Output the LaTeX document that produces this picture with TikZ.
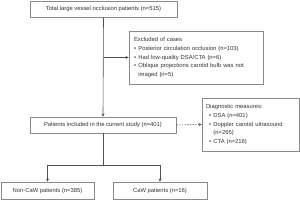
\documentclass[tikz,border=0pt]{standalone}
\usepackage{fontspec}
\setmainfont{Liberation Sans}
\usetikzlibrary{arrows.meta}
\definecolor{boxline}{HTML}{8A8A8A}
\definecolor{conn}{HTML}{505050}
\definecolor{txt}{HTML}{333333}
\newcommand{\bul}{\makebox[4.4pt][l]{\textbullet}}
\begin{document}
\begin{tikzpicture}[x=1pt,y=-1pt,
  box/.style={draw=boxline,line width=0.6pt,rectangle,inner sep=0pt,text=txt,
    font=\fontsize{5.85}{8.8}\selectfont},
  conline/.style={draw=conn,line width=0.6pt},
  arr/.style={conline,-{Stealth[length=3.2pt,width=3pt]}}]
\useasboundingbox (0,0) rectangle (300,200);
\fill[white] (0,0) rectangle (300,200);
\node[box,minimum width=147pt,minimum height=16pt] (top) at (103.5,9) {Total large vessel occlusion patients (n=515)};
\node[box,minimum width=134pt,minimum height=53pt,align=left,text width=124pt] (excl) at (196,57.5)
  {Excluded of cases\\
   \bul Posterior circulation occlusion (n=103)\\
   \bul Had low-quality DSA/CTA (n=6)\\
   \bul Oblique projections carotid bulb was not\\
   \hspace*{4.4pt}imaged (n=5)};
\node[box,minimum width=146pt,minimum height=16pt] (incl) at (103,125) {Patients included in the current study (n=401)};
\node[box,minimum width=97pt,minimum height=53pt,align=left,text width=89pt] (diag) at (250.5,124.5)
  {Diagnostic measures:\\
   \hspace*{3pt}\bul DSA (n=401)\\
   \hspace*{3pt}\bul Doppler carotid ultrasound\\
   \hspace*{7.4pt}(n=265)\\
   \hspace*{3pt}\bul CTA (n=216)};
\node[box,minimum width=93pt,minimum height=17pt] (non) at (47.5,190.5) {Non-CaW patients (n=385)};
\node[box,minimum width=94pt,minimum height=17pt] (caw) at (160,190.5) {CaW patients (n=16)};
\coordinate (br) at (top.south |- excl.west);
\coordinate (split) at (103,165);
\draw[arr] (top.south) -- (incl.north);
\draw[arr] (br) -- (excl.west);
\draw[arr,dashed,dash pattern=on 1.5pt off 1.2pt] (incl.east) -- (diag.west);
\draw[conline] (incl.south) -- (split);
\draw[arr] (split) -| (non.north);
\draw[arr] (split) -| (caw.north);
\end{tikzpicture}
\end{document}
